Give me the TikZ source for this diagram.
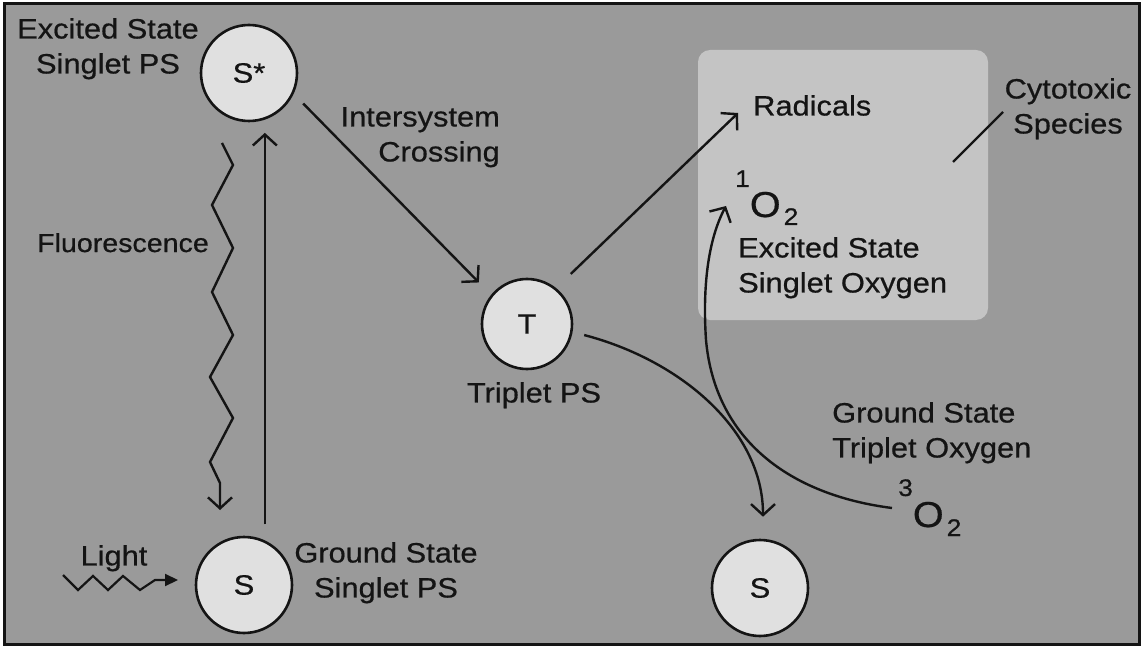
\documentclass[tikz,border=0pt]{standalone}
\usepackage{fontspec}
\setmainfont{Liberation Sans}[FakeStretch=1.1,FakeBold=0.6]
\usetikzlibrary{arrows.meta}
\definecolor{bgc}{RGB}{154,154,154}
\definecolor{boxc}{RGB}{196,196,196}
\definecolor{circc}{RGB}{224,224,224}
\definecolor{inkc}{RGB}{20,20,20}
\newcommand\mainsz{\fontsize{28}{35}\selectfont}
\newcommand\smsz{\fontsize{26}{30}\selectfont}
\newcommand\supsz{\fontsize{24}{24}\selectfont}
\newcommand\oxsz{\fontsize{36}{36}\selectfont}
\tikzset{
  circ/.style={circle, draw=inkc, line width=2.6pt, fill=circc, minimum size=96pt, inner sep=0pt, text=inkc, font=\mainsz},
  lbl/.style={inner sep=0pt, text=inkc, font=\mainsz},
  arr/.style={draw=inkc, line width=2.4pt, -{Straight Barb[length=11pt,width=24pt,line width=2.4pt]}},
  plain/.style={draw=inkc, line width=2.4pt}
}
\begin{document}
\begin{tikzpicture}[x=1pt,y=-1pt]
\useasboundingbox (0,0) rectangle (1144,647);
\fill[white] (0,0) rectangle (1144,647);
\fill[bgc] (4,4) rectangle (1139,644);
\fill[boxc, rounded corners=12pt] (698,50) rectangle (988,320);
\draw[inkc, line width=3pt] (4,4) rectangle (1139,644);

% circles
\node[circ] (Ss) at (249,73) {S*};
\node[circ] (Sg) at (244,585) {S};
\node[circ, minimum size=90pt] (T) at (527,324) {T};
\node[circ] (Sr) at (760,588) {S};

% labels
\node[lbl, anchor=north, align=center] (lSs) at (108,18) {Excited State\\Singlet PS};
\node[lbl, anchor=north, font=\smsz] (lFl) at (123,233) {Fluorescence};
\node[lbl, anchor=north] (lLi) at (114,545) {Light};
\node[lbl, anchor=north, align=center] (lSg) at (386,542) {Ground State\\Singlet PS};
\node[lbl, anchor=north east, align=right] (lIsc) at (500,107) {Intersystem\\Crossing};
\node[lbl, anchor=north] (lT) at (534,382) {Triplet PS};
\node[lbl, anchor=north west] (lRad) at (753,95) {Radicals};
\node[lbl, anchor=north, align=center] (lCyt) at (1068,78) {Cytotoxic\\Species};
\node[lbl, anchor=base west] (O1) at (735,217) {\raisebox{30pt}{\supsz 1}\oxsz O\hspace{3pt}\raisebox{-8pt}{\supsz 2}};
\node[lbl, anchor=north west, align=left] (lO1) at (738,237) {Excited State\\Singlet Oxygen};
\node[lbl, anchor=north west, align=left] (lO3) at (832,402) {Ground State\\Triplet Oxygen};
\node[lbl, anchor=base west] (O3) at (898,527) {\raisebox{31pt}{\supsz 3}\oxsz O\hspace{3pt}\raisebox{-9pt}{\supsz 2}};

% free ends
\coordinate (radtip) at (738,113);
\coordinate (cyt1) at (1003,112);
\coordinate (cyt2) at (953,162);
\coordinate (o3start) at (892,508);
\coordinate (o1tip) at (726,206);
\coordinate (fl1) at (222,143);
\coordinate (fl2) at (220,510);
\coordinate (li1) at (63,575);
\coordinate (li2) at (178,580);

% connectors
\draw[arr, shorten <=16pt, shorten >=13pt] (Sg.65.4) -- (Sg.65.4 |- Ss.-72.2);
\draw[arr, shorten <=13.6pt, shorten >=17.4pt] (Ss.-25) -- (T.141);
\draw[arr, shorten <=20.3pt] (T.51) -- (radtip);
\draw[plain] (cyt1) -- (cyt2);
\draw[arr, shorten <=12pt, shorten >=22pt] (T.-10) .. controls (680,360) and (763,430) .. (Sr.north -| 763,0);
\draw[arr] (o3start) .. controls (790,495) and (715,440) .. (706,340) .. controls (702,280) and (710,236) .. (o1tip);
\draw[arr, line join=miter] (fl1) -- (233,165) -- (212,205) -- (233,248) -- (212,292) -- (233,335) -- (210,377) -- (233,418) -- (210,462) -- (220,483) -- (fl2);
\draw[draw=inkc, line width=2.2pt, -{Triangle[length=13pt,width=12pt]}] (li1) -- (78,590) -- (93,576) -- (108,590) -- (123,576) -- (140,590) -- (155,580) -- (li2);
\end{tikzpicture}
\end{document}
